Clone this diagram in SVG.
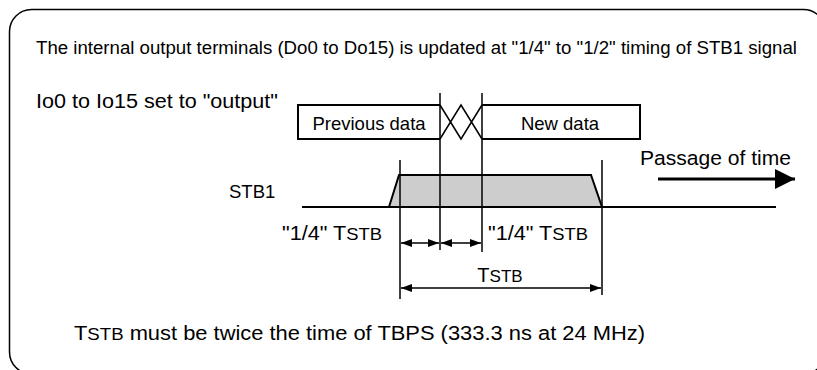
<svg xmlns="http://www.w3.org/2000/svg" width="817" height="370" viewBox="0 0 817 370">
<defs>
<style>
text{font-family:"Liberation Sans",Arial,sans-serif;fill:#000}
.ln{stroke:#000;stroke-width:1.5;fill:none}
.th{stroke:#000;stroke-width:2;fill:none}
.sc{font-size:17px}
</style>
<marker id="ah" viewBox="0 0 11 8" refX="11" refY="4" markerWidth="11" markerHeight="8" markerUnits="userSpaceOnUse" orient="auto-start-reverse">
<path d="M0,0L11,4L0,8z" fill="#000"/>
</marker>
<marker id="big" viewBox="0 0 20 20" refX="20" refY="10" markerWidth="20" markerHeight="20" markerUnits="userSpaceOnUse" orient="auto">
<path d="M0,0L20,10L0,20z" fill="#000"/>
</marker>
</defs>
<rect x="9.5" y="9.5" width="816" height="364.5" rx="22" ry="22" fill="#fff" stroke="#000" stroke-width="1.5"/>
<g id="title"><text x="36" y="54" font-size="17.5" textLength="761" lengthAdjust="spacingAndGlyphs">The internal output terminals (Do0 to Do15) is updated at "1/4" to "1/2" timing of STB1 signal</text></g>
<g id="io-label"><text x="36" y="108" font-size="19.5" textLength="242" lengthAdjust="spacingAndGlyphs">Io0 to Io15 set to "output"</text></g>
<g id="prev-data">
<path class="th" d="M440,105H298V139H440"/>
<text x="369" y="130" font-size="18.5" text-anchor="middle">Previous data</text>
</g>
<g id="transition">
<path class="ln" d="M440,105L461,139L482,105M440,139L461,105L482,139"/>
</g>
<g id="new-data">
<path class="th" d="M482,105H640V139H482"/>
<text x="560" y="130" font-size="18.5" text-anchor="middle">New data</text>
</g>
<g id="stb1">
<text x="229" y="198" font-size="18.5">STB1</text>
<path class="th" d="M302,207H776"/>
<path d="M389,207L399,175H591L602,207z" fill="#cdcdcd" stroke="#000" stroke-width="2"/>
</g>
<g id="passage">
<text x="640" y="165" font-size="20.5" textLength="151" lengthAdjust="spacingAndGlyphs">Passage of time</text>
<path d="M658,179H795" stroke="#000" stroke-width="3" marker-end="url(#big)"/>
</g>
<g id="connectors">
<path class="ln" d="M440,93V250M482,93V252M400,160V299M602,160V295"/>
<path class="ln" d="M401,243H439" marker-start="url(#ah)" marker-end="url(#ah)"/>
<path class="ln" d="M441,243H481" marker-start="url(#ah)" marker-end="url(#ah)"/>
<path class="ln" d="M401,288H601" marker-start="url(#ah)" marker-end="url(#ah)"/>
</g>
<g id="labels">
<text x="282" y="240" font-size="20" textLength="100" lengthAdjust="spacingAndGlyphs">"1/4" T<tspan class="sc">STB</tspan></text>
<text x="488" y="240" font-size="20" textLength="100" lengthAdjust="spacingAndGlyphs">"1/4" T<tspan class="sc">STB</tspan></text>
<text x="500" y="282" font-size="20" text-anchor="middle">T<tspan class="sc">STB</tspan></text>
<text x="74" y="340" font-size="20" textLength="571" lengthAdjust="spacingAndGlyphs">T<tspan class="sc">STB</tspan> must be twice the time of TBPS (333.3 ns at 24 MHz)</text>
</g>
</svg>
